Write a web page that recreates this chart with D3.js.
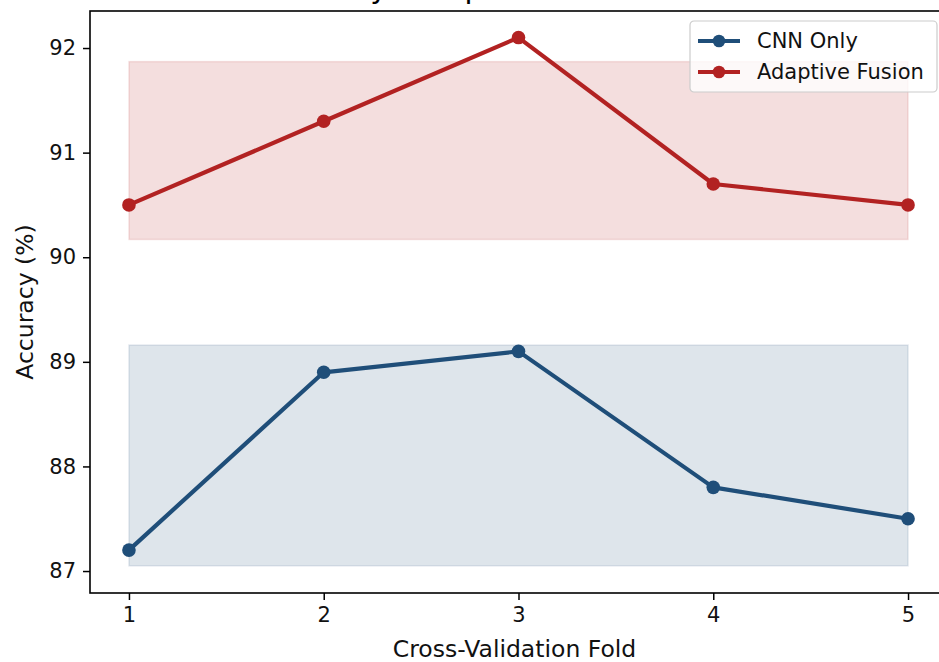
<!DOCTYPE html>
<html>
<head>
<meta charset="utf-8">
<script src="https://cdn.jsdelivr.net/npm/d3@7"></script>
<style>
  body { margin: 0; background: #fff; }
  svg { display: block; font-family: "DejaVu Sans", sans-serif; }
</style>
</head>
<body>
<svg id="chart" width="939" height="662"></svg>
<script>
// data
const folds = [1, 2, 3, 4, 5];
const cnnOnly = [87.2, 88.9, 89.1, 87.8, 87.5];
const adaptiveFusion = [90.5, 91.3, 92.1, 90.7, 90.5];
const cnnBand = [87.05, 89.16];
const fusionBand = [90.17, 91.87];
const yTicks = [87, 88, 89, 90, 91, 92];
const seriesNames = ["CNN Only", "Adaptive Fusion"];
const colors = ["#1f4e79", "#b22222"];

const svg = d3.select("#chart");
const margins = { left: 90, right: 947, top: 11, bottom: 593 };

const x = d3.scaleLinear().domain([0.8, 5.2]).range([margins.left, margins.right]);
const y = d3.scaleLinear().domain([86.79, 92.354]).range([margins.bottom, margins.top]);

// Title (sits mostly above the visible area, as in the original)
svg.append("text")
  .attr("x", 509)
  .attr("y", -2)
  .attr("text-anchor", "middle")
  .style("font-size", "29.5px")
  .style("fill", "#000")
  .text("Accuracy Comparison Across Folds");

// Confidence bands
const bands = [cnnBand, fusionBand];
svg.append("g")
  .selectAll("rect")
  .data(bands)
  .join("rect")
  .attr("x", x(folds[0]))
  .attr("width", x(folds[folds.length - 1]) - x(folds[0]))
  .attr("y", d => y(d[1]))
  .attr("height", d => y(d[0]) - y(d[1]))
  .style("fill", (d, i) => colors[i])
  .style("fill-opacity", 0.15)
  .style("stroke", (d, i) => colors[i])
  .style("stroke-opacity", 0.12)
  .style("stroke-width", 1.5);

// Lines and markers
const series = [cnnOnly, adaptiveFusion];
const line = d3.line()
  .x((d, i) => x(folds[i]))
  .y(d => y(d));

series.forEach((values, k) => {
  svg.append("path")
    .datum(values)
    .attr("d", line)
    .style("fill", "none")
    .style("stroke", colors[k])
    .style("stroke-width", 4.2)
    .style("stroke-linejoin", "round");

  svg.append("g")
    .selectAll("circle")
    .data(values)
    .join("circle")
    .attr("cx", (d, i) => x(folds[i]))
    .attr("cy", d => y(d))
    .attr("r", 6.8)
    .style("fill", colors[k]);
});

// Axes
const xAxis = svg.append("g")
  .attr("transform", `translate(0, ${margins.bottom})`)
  .call(d3.axisBottom(x).tickValues(folds).tickFormat(d3.format("d")).tickSize(7).tickPadding(7));

const yAxis = svg.append("g")
  .attr("transform", `translate(${margins.left}, 0)`)
  .call(d3.axisLeft(y).tickValues(yTicks).tickFormat(d3.format("d")).tickSize(7).tickPadding(7));

[xAxis, yAxis].forEach(ax => {
  ax.select(".domain").remove();
  ax.selectAll("line").style("stroke", "#000").style("stroke-width", 1.5);
  ax.selectAll("text")
    .style("font-size", "21px")
    .style("font-family", "DejaVu Sans, sans-serif")
    .style("fill", "#111");
});

// Frame
svg.append("rect")
  .attr("x", margins.left)
  .attr("y", margins.top)
  .attr("width", margins.right - margins.left)
  .attr("height", margins.bottom - margins.top)
  .style("fill", "none")
  .style("stroke", "#000")
  .style("stroke-width", 1.6);

// Axis labels
svg.append("text")
  .attr("x", (margins.left + margins.right) / 2 - 4)
  .attr("y", 657)
  .attr("text-anchor", "middle")
  .style("font-size", "23.5px")
  .style("fill", "#111")
  .text("Cross-Validation Fold");

svg.append("text")
  .attr("transform", `translate(33, ${(margins.top + margins.bottom) / 2}) rotate(-90)`)
  .attr("text-anchor", "middle")
  .style("font-size", "23.5px")
  .style("fill", "#111")
  .text("Accuracy (%)");

// Legend
const legend = svg.append("g").attr("transform", "translate(690, 21)");
legend.append("rect")
  .attr("width", 247)
  .attr("height", 71)
  .attr("rx", 4)
  .style("fill", "#fff")
  .style("fill-opacity", 0.8)
  .style("stroke", "#cccccc")
  .style("stroke-width", 1.2);

seriesNames.forEach((name, i) => {
  const row = legend.append("g").attr("transform", `translate(0, ${20 + i * 31})`);
  row.append("line")
    .attr("x1", 8).attr("x2", 50)
    .style("stroke", colors[i])
    .style("stroke-width", 4.2);
  row.append("circle")
    .attr("cx", 29).attr("r", 6.3)
    .style("fill", colors[i]);
  row.append("text")
    .attr("x", 67)
    .attr("dy", "0.35em")
    .style("font-size", "21px")
    .style("fill", "#111")
    .text(name);
});
</script>
</body>
</html>
